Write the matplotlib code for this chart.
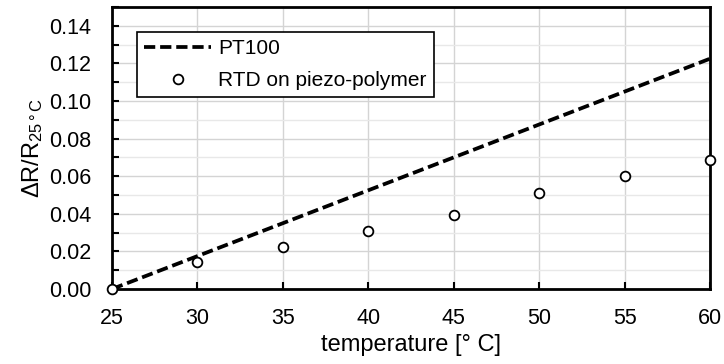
import matplotlib
matplotlib.use("Agg")
import matplotlib.pyplot as plt
from matplotlib.ticker import MultipleLocator

plt.rcParams['font.family'] = ['Liberation Sans', 'DejaVu Sans']
plt.rcParams['mathtext.fontset'] = 'custom'
plt.rcParams['mathtext.rm'] = 'Liberation Sans'
plt.rcParams['mathtext.it'] = 'Liberation Sans'

pt100_temp = [25, 60]
pt100_dr = [0.0, 0.1225]
rtd_temp = [25, 30, 35, 40, 45, 50, 55, 60]
rtd_dr = [0.0, 0.0142, 0.0224, 0.0311, 0.0396, 0.0509, 0.0599, 0.0684]
y_ticks = [0.00, 0.02, 0.04, 0.06, 0.08, 0.10, 0.12, 0.14]

fig = plt.figure(figsize=(7.24, 3.64), dpi=100)
ax = fig.add_axes([112/724, 1-289/364, (710-112)/724, (289-7)/364])

ax.plot(pt100_temp, pt100_dr, color='black', lw=2.7, ls=(0, (3.0, 1.3)), label='PT100', zorder=3)
ax.plot(rtd_temp, rtd_dr, ls='none', marker='o', ms=7.0, mfc='white', mec='black', mew=1.3,
        label='RTD on piezo-polymer', zorder=4, clip_on=False)

ax.set_xlim(25, 60)
ax.set_ylim(0, 0.15)
ax.xaxis.set_major_locator(MultipleLocator(5))
ax.yaxis.set_minor_locator(MultipleLocator(0.01))
ax.set_yticks(y_ticks)
ax.set_yticklabels([f"{v:.2f}" for v in y_ticks])

ax.grid(which='major', color='#d4d4d4', lw=1.0)
ax.grid(which='minor', axis='y', color='#e8e8e8', lw=1.0)
ax.set_axisbelow(True)

for s in ax.spines.values():
    s.set_linewidth(2.0)
ax.tick_params(which='major', direction='in', length=5, width=1.5, labelsize=15.5)
ax.tick_params(axis='y', which='major', pad=15)
ax.tick_params(axis='x', which='major', pad=14)
ax.tick_params(which='minor', direction='in', length=5, width=1.5)
ax.tick_params(axis='x', which='minor', length=0)

ax.set_xlabel('temperature [° C]', fontsize=17, labelpad=3)
ax.set_ylabel(r'$\Delta$R/R$_{25\,°\,\mathrm{C}}$', fontsize=17, labelpad=3)

leg = ax.legend(loc='upper left', bbox_to_anchor=(0.042, 0.911), fontsize=15, frameon=True,
                fancybox=False, edgecolor='black', framealpha=1, handlelength=3.2,
                borderpad=0.35, borderaxespad=0, labelspacing=0.6, handletextpad=0.35)
leg.get_frame().set_linewidth(1.2)

fig.savefig('out.png', dpi=100)
